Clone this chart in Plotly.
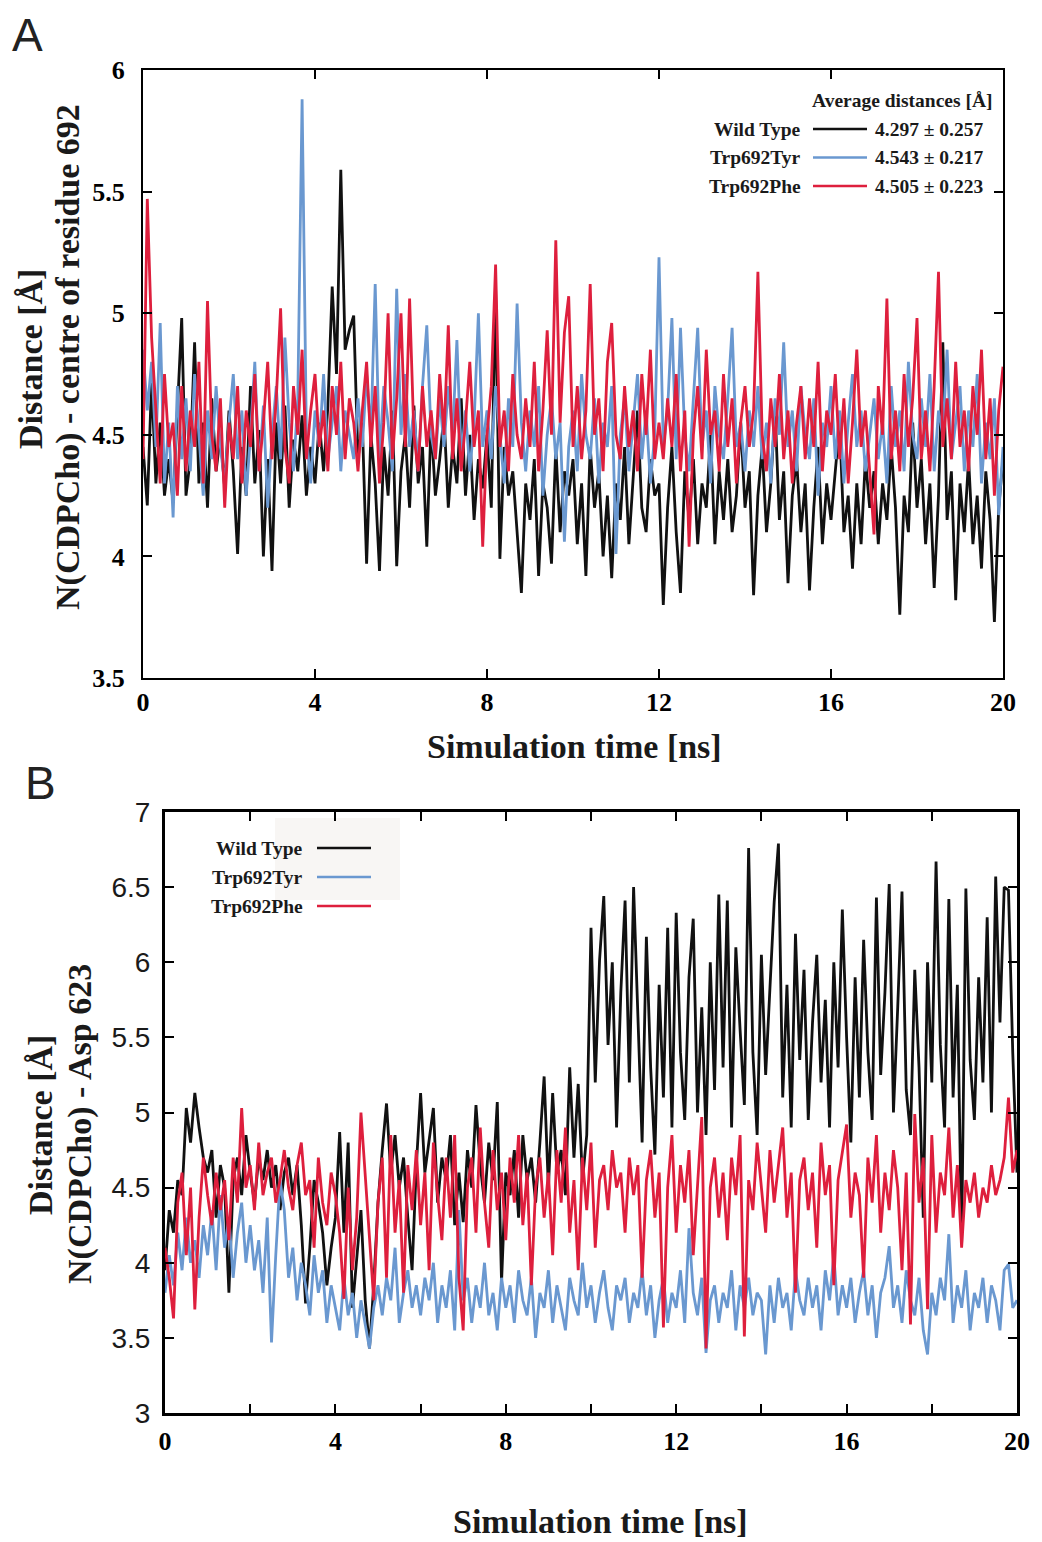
import plotly.graph_objects as go

# ---- data (0.1 ns sampling) ----
time_ns = [i / 10 for i in range(201)]

# Panel A: N(CDPCho) - centre of residue 692
a_wild = [
    4.45, 4.21, 4.72, 4.30, 4.55, 4.25, 4.40, 4.22, 4.60, 4.98,
    4.25, 4.40, 4.88, 4.30, 4.55, 4.20, 4.65, 4.35, 4.50, 4.28,
    4.60, 4.35, 4.01, 4.45, 4.25, 4.70, 4.30, 4.52, 4.00, 4.40,
    3.94, 4.55, 4.30, 4.62, 4.20, 4.48, 4.35, 4.58, 4.25, 4.45,
    4.30, 4.55, 4.35, 4.62, 5.11, 4.75, 5.59, 4.85, 4.93, 4.99,
    4.40, 4.55, 3.97, 4.50, 4.30, 3.94, 4.45, 4.25, 4.60, 3.96,
    4.35, 4.50, 4.20, 4.62, 4.30, 4.45, 4.04, 4.55, 4.25, 4.40,
    4.58, 4.20, 4.45, 4.30, 4.65, 4.25, 4.50, 4.15, 4.40, 4.28,
    4.50, 4.20, 5.10, 3.99, 4.45, 4.25, 4.35, 4.10, 3.85, 4.30,
    4.15, 4.40, 3.92, 4.30, 4.20, 3.97, 4.45, 4.10, 4.35, 4.25,
    4.40, 4.05, 4.30, 3.92, 4.45, 4.20, 4.35, 4.00, 4.25, 3.91,
    4.30, 4.15, 4.45, 4.05, 4.35, 4.60, 4.20, 4.10, 4.40, 4.25,
    4.30, 3.80, 4.20, 4.45, 4.10, 3.85, 4.35, 4.15, 4.40, 4.05,
    4.30, 4.20, 4.50, 4.05, 4.35, 4.15, 4.40, 4.10, 4.25, 4.55,
    4.20, 4.35, 3.84, 4.25, 4.45, 4.10, 4.30, 4.60, 4.15, 4.35,
    3.89, 4.25, 4.40, 4.10, 4.30, 3.86, 4.20, 4.45, 4.05, 4.30,
    4.15, 4.35, 4.55, 4.10, 4.25, 3.95, 4.30, 4.05, 4.40, 4.20,
    4.35, 4.05, 4.30, 4.15, 4.45, 4.20, 3.76, 4.25, 4.10, 4.55,
    4.20, 4.40, 4.05, 4.30, 3.87, 4.25, 4.88, 4.15, 4.35, 3.82,
    4.30, 4.10, 4.40, 4.05, 4.25, 3.95, 4.35, 4.15, 3.73, 4.20,
    4.40,
]
a_tyr = [
    4.85, 4.60, 4.80, 4.45, 4.96, 4.30, 4.55, 4.16, 4.70, 4.40,
    4.65, 4.35, 4.75, 4.50, 4.25, 4.60, 4.40, 4.70, 4.45, 4.30,
    4.55, 4.75, 4.40, 4.60, 4.25, 4.50, 4.80, 4.35, 4.62, 4.20,
    4.50, 4.70, 4.40, 4.90, 4.55, 4.35, 4.65, 5.88, 4.50, 4.30,
    4.60, 4.45, 4.75, 4.40, 4.55, 4.70, 4.35, 4.60, 4.50, 4.40,
    4.65, 4.45, 4.75, 4.50, 5.12, 4.40, 4.70, 4.55, 4.35, 5.10,
    4.50, 4.75, 4.45, 4.60, 4.35, 4.70, 4.95, 4.50, 4.40, 4.65,
    4.45, 4.70, 4.50, 4.89, 4.40, 4.60, 4.35, 4.55, 5.00, 4.45,
    4.60, 4.40, 4.70, 4.50, 4.30, 4.65, 4.45, 5.04, 4.55, 4.35,
    4.60, 4.45, 4.70, 4.25, 4.50, 4.65, 4.40, 4.55, 4.06, 4.45,
    4.60, 4.35, 4.75, 4.50, 4.40, 4.65, 4.30, 4.55, 4.45, 4.70,
    4.01, 4.50, 4.65, 4.35, 4.55, 4.75, 4.40, 4.60, 4.30, 4.50,
    5.23, 4.45, 4.60, 4.98, 4.40, 4.94, 4.50, 4.35, 4.65, 4.94,
    4.45, 4.60, 4.30, 4.70, 4.50, 4.40, 4.65, 4.94, 4.45, 4.55,
    4.35, 4.60, 4.45, 4.70, 4.40, 4.55, 4.30, 4.65, 4.50, 4.88,
    4.45, 4.60, 4.35, 4.70, 4.50, 4.40, 4.65, 4.25, 4.55, 4.45,
    4.70, 4.40, 4.60, 4.30, 4.55, 4.75, 4.45, 4.60, 4.35, 4.50,
    4.65, 4.40, 4.55, 4.30, 4.70, 4.45, 4.60, 4.35, 4.80, 4.50,
    4.40, 4.65, 4.45, 4.75, 4.35, 4.60, 4.50, 4.85, 4.40, 4.55,
    4.70, 4.35, 4.60, 4.45, 4.75, 4.30, 4.55, 4.40, 4.65, 4.17,
    4.45,
]
a_phe = [
    4.40, 5.47, 4.90, 4.60, 4.30, 4.75, 4.45, 4.55, 4.25, 4.70,
    4.35, 4.60, 4.45, 4.80, 4.30, 5.05, 4.50, 4.35, 4.65, 4.20,
    4.55, 4.40, 4.70, 4.30, 4.60, 4.45, 4.75, 4.35, 4.55, 4.80,
    4.40, 4.65, 5.02, 4.45, 4.30, 4.70, 4.50, 4.85, 4.40, 4.60,
    4.75, 4.45, 4.60, 4.35, 4.70, 4.50, 4.80, 4.40, 4.65, 4.55,
    4.35, 4.60, 4.80, 4.45, 4.70, 4.30, 4.55, 5.00, 4.40, 4.65,
    5.00, 4.45, 5.06, 4.50, 4.35, 4.70, 4.45, 4.60, 4.40, 4.75,
    4.50, 4.95, 4.40, 4.65, 4.35, 4.55, 4.80, 4.45, 4.60, 4.04,
    4.50, 4.70, 5.20, 4.45, 4.60, 4.35, 4.75, 4.50, 4.40, 4.65,
    4.45, 4.80, 4.35, 4.60, 4.93, 4.50, 5.30, 4.55, 4.92, 5.07,
    4.45, 4.70, 4.40, 4.60, 5.12, 4.50, 4.65, 4.35, 4.80, 4.96,
    4.50, 4.40, 4.70, 4.45, 4.60, 4.35, 4.75, 4.50, 4.85, 4.40,
    4.55, 4.40, 4.65, 4.45, 4.75, 4.35, 4.60, 4.04, 4.50, 4.70,
    4.40, 4.85, 4.50, 4.60, 4.35, 4.75, 4.45, 4.65, 4.30, 4.55,
    4.70, 4.45, 4.60, 5.17, 4.50, 4.35, 4.65, 4.45, 4.75, 4.40,
    4.60, 4.30, 4.55, 4.70, 4.40, 4.65, 4.45, 4.80, 4.35, 4.60,
    4.50, 4.75, 4.40, 4.65, 4.30, 4.55, 4.85, 4.45, 4.60, 4.35,
    4.09, 4.70, 4.50, 5.06, 4.40, 4.60, 4.35, 4.75, 4.45, 4.65,
    4.98, 4.40, 4.60, 4.35, 4.70, 5.17, 4.45, 4.65, 4.40, 4.80,
    4.45, 4.60, 4.35, 4.70, 4.50, 4.85, 4.40, 4.65, 4.25, 4.60,
    4.78,
]

# Panel B: N(CDPCho) - Asp 623
b_wild = [
    3.95, 4.35, 4.20, 4.55, 4.45, 5.03, 4.80, 5.13, 4.90, 4.70,
    4.60, 4.75, 4.30, 4.65, 4.50, 3.80, 4.55, 4.70, 4.45, 4.85,
    4.60, 4.40, 4.70, 4.55, 4.75, 4.50, 4.65, 4.35, 4.60, 4.70,
    4.45, 4.65, 4.25, 3.73, 4.10, 4.55, 4.40, 4.20, 3.85, 4.10,
    4.30, 4.87, 4.20, 4.80, 3.70, 4.00, 4.35, 3.75, 3.43, 3.85,
    4.40, 4.75, 5.06, 4.60, 4.85, 4.50, 4.70, 4.30, 3.95, 4.65,
    5.13, 4.60, 4.80, 5.03, 4.40, 4.70, 4.55, 4.85, 4.25, 4.60,
    4.27, 4.75, 4.50, 5.05, 4.65, 4.40, 4.80, 4.55, 5.07, 3.87,
    4.60, 4.45, 4.75, 4.30, 4.85, 4.55, 4.70, 4.40, 4.80, 5.24,
    4.50, 5.13, 4.60, 4.75, 4.45, 5.30, 4.70, 5.19, 4.55, 4.85,
    6.23, 5.20, 6.01, 6.44, 5.45, 6.00, 4.90, 5.80, 6.41, 5.20,
    6.50, 5.60, 4.80, 6.17, 5.30, 4.72, 5.85, 5.10, 6.23, 4.90,
    6.33, 5.40, 4.95, 5.90, 6.29, 5.00, 5.70, 4.85, 6.00, 5.15,
    6.45, 5.30, 6.41, 4.90, 6.10, 5.55, 5.05, 6.76, 5.40, 4.85,
    6.05, 5.25, 5.80, 6.40, 6.79, 5.10, 5.85, 4.90, 6.19, 5.35,
    5.95, 4.95, 5.60, 6.05, 5.20, 5.75, 4.90, 6.00, 5.30, 6.35,
    5.50, 4.80, 5.90, 5.10, 6.15, 5.40, 4.95, 6.43, 5.25, 5.80,
    6.52, 5.00, 5.70, 6.47, 5.15, 4.85, 5.95, 5.30, 4.30, 6.00,
    5.20, 6.67, 5.45, 4.90, 6.42, 5.10, 5.85, 4.13, 6.49, 5.35,
    4.95, 5.90, 5.20, 6.30, 5.00, 6.57, 5.60, 6.50, 6.48, 5.40,
    4.60,
]
b_tyr = [
    3.80, 4.05, 3.85, 4.20, 3.95, 4.30, 4.00, 4.15, 3.90, 4.25,
    4.05, 4.35, 3.95, 4.45, 4.10, 4.30, 3.90, 4.20, 4.40, 4.00,
    4.25, 3.95, 4.15, 3.80, 4.30, 3.47, 4.05, 4.55, 4.35, 3.90,
    4.10, 3.75, 4.00, 3.85, 3.65, 4.05, 3.80, 3.95, 3.60, 3.85,
    3.70, 3.55, 3.90, 3.65, 3.80, 3.50, 3.75, 3.60, 3.43, 3.70,
    3.85, 3.65, 3.90, 3.75, 4.10, 3.60, 3.80, 3.95, 3.70, 3.85,
    3.65, 3.90, 3.75, 4.00, 3.60, 3.85, 3.70, 3.95, 3.55, 4.35,
    3.75, 3.90, 3.60, 3.85, 3.70, 4.00, 3.65, 3.80, 3.55, 3.90,
    3.70, 3.85, 3.60, 3.95, 3.75, 3.65, 3.90, 3.50, 3.80, 3.70,
    3.95, 3.60, 3.85, 3.70, 3.55, 3.90, 3.75, 3.65, 4.00, 3.70,
    3.85, 3.60, 3.80, 3.95, 3.70, 3.55, 3.85, 3.75, 3.90, 3.60,
    3.80, 3.70, 3.95, 3.65, 3.85, 3.50, 3.75, 3.90, 3.60, 3.80,
    3.70, 3.95, 3.60, 4.23, 3.80, 3.65, 3.90, 3.40, 3.75, 3.85,
    3.60, 3.80, 3.70, 3.95, 3.55, 3.85, 3.70, 3.90, 3.65, 3.80,
    3.75, 3.39, 3.85, 3.60, 3.90, 3.70, 3.80, 3.55, 3.95, 3.75,
    3.65, 3.90, 3.70, 3.85, 3.55, 3.95, 3.75, 4.05, 3.65, 3.85,
    3.70, 3.90, 3.60, 3.80, 3.95, 3.65, 3.85, 3.50, 3.80, 3.90,
    4.11, 3.70, 3.85, 3.60, 3.95, 3.75, 3.65, 3.90, 3.55, 3.39,
    3.80, 3.65, 3.90, 3.75, 4.19, 3.60, 3.85, 3.70, 3.95, 3.55,
    3.80, 3.70, 3.90, 3.60, 3.85, 3.75, 3.55, 3.95, 3.99, 3.70,
    3.75,
]
b_phe = [
    4.10, 3.90, 3.63, 4.40, 4.60, 4.05, 4.50, 3.69, 4.30, 4.70,
    4.45, 4.25, 4.60, 4.35, 4.55, 4.15, 4.70, 4.40, 5.03, 4.50,
    4.65, 4.35, 4.80, 4.45, 4.60, 4.70, 4.40, 4.55, 4.75, 4.50,
    4.35, 4.65, 4.80, 4.45, 4.55, 4.10, 4.70, 4.40, 4.25, 4.60,
    4.45, 4.20, 3.76, 4.50, 3.95, 4.30, 5.00, 4.60, 4.15, 3.75,
    4.40, 4.70, 3.90, 4.85, 4.20, 4.55, 3.80, 4.65, 4.35, 4.75,
    4.25, 4.60, 3.95, 4.80, 4.45, 4.15, 4.70, 4.30, 4.85, 3.90,
    3.55, 4.50, 4.70, 4.20, 4.90, 4.40, 4.10, 4.75, 4.35, 4.60,
    4.15, 4.70, 4.40, 4.85, 4.25, 4.60, 3.85, 4.50, 4.70, 4.30,
    4.60, 4.05, 4.75, 4.40, 4.90, 4.20, 4.55, 3.95, 4.70, 4.35,
    4.80, 4.10, 4.55, 4.65, 4.35, 4.75, 4.50, 4.60, 4.20, 4.70,
    4.45, 4.65, 3.90, 4.55, 4.75, 4.30, 4.60, 3.57, 4.50, 4.85,
    4.20, 4.65, 4.40, 4.75, 4.05, 4.55, 4.97, 3.43, 4.50, 4.70,
    4.30, 4.60, 4.15, 4.70, 4.45, 4.85, 3.51, 4.55, 4.35, 4.80,
    4.50, 4.20, 4.75, 4.40, 4.65, 4.90, 4.30, 4.60, 3.80, 4.55,
    4.70, 4.35, 4.60, 4.10, 4.80, 4.45, 4.65, 3.85, 4.55, 4.75,
    4.92, 4.30, 4.60, 4.45, 3.90, 4.70, 4.40, 4.85, 4.20, 4.60,
    4.35, 4.75, 4.50, 3.95, 4.60, 3.59, 4.99, 4.40, 4.70, 3.69,
    4.85, 4.20, 4.60, 4.45, 4.90, 4.30, 4.65, 4.10, 4.55, 4.40,
    4.60, 4.30, 4.50, 4.40, 4.65, 4.45, 4.55, 4.70, 5.10, 4.60,
    4.75,
]

series_names = ["Wild Type", "Trp692Tyr", "Trp692Phe"]
avg_labels = ["4.297 \u00b1 0.257", "4.543 \u00b1 0.217", "4.505 \u00b1 0.223"]
colors = ["#111111", "#6a98d0", "#de1f3d"]

W, H = 1042, 1542
SERIF = "Liberation Serif"
SANS = "Liberation Sans"


def px(x):
    return x / W


def py(y):
    return 1 - y / H


fig = go.Figure()

for vals, name, col in zip([a_wild, a_tyr, a_phe], series_names, colors):
    fig.add_trace(go.Scatter(x=time_ns, y=vals, mode="lines", name=name,
                             line=dict(color=col, width=2.8),
                             xaxis="x", yaxis="y", showlegend=False))
for vals, name, col in zip([b_wild, b_tyr, b_phe], series_names, colors):
    fig.add_trace(go.Scatter(x=time_ns, y=vals, mode="lines", name=name,
                             line=dict(color=col, width=2.8),
                             xaxis="x2", yaxis="y2", showlegend=False))

bold_tick = dict(family=SERIF, size=26, color="black", weight="bold")
axis_common = dict(showline=True, linecolor="black", mirror="ticks",
                   ticks="inside", tickcolor="black", showgrid=False, zeroline=False)

fig.update_layout(
    width=W, height=H,
    margin=dict(l=0, r=0, t=0, b=0, autoexpand=False),
    paper_bgcolor="white", plot_bgcolor="white",
    xaxis=dict(domain=[px(143), px(1003)], anchor="y", range=[0, 20],
               tickvals=[0, 4, 8, 12, 16, 20], ticklen=9, tickwidth=2,
               linewidth=2, tickfont=bold_tick, ticklabelstandoff=0, **axis_common),
    yaxis=dict(domain=[py(678), py(70)], anchor="x", range=[3.5, 6],
               tickvals=[3.5, 4, 4.5, 5, 5.5, 6], ticktext=["3.5", "4", "4.5", "5", "5.5", "6"],
               ticklen=9, tickwidth=2, linewidth=2, tickfont=bold_tick,
               ticklabelstandoff=11, **axis_common),
    xaxis2=dict(domain=[px(165), px(1017)], anchor="y2", range=[0, 20],
                tickvals=[0, 4, 8, 12, 16, 20], ticklen=9, tickwidth=1.5,
                minor=dict(tickvals=[2, 6, 10, 14, 18], ticks="inside", ticklen=9,
                           tickwidth=1.5, tickcolor="black"),
                linewidth=3, tickfont=bold_tick, ticklabelstandoff=3, **axis_common),
    yaxis2=dict(domain=[py(1413), py(812)], anchor="x2", range=[3, 7],
                tickvals=[3, 3.5, 4, 4.5, 5, 5.5, 6, 6.5, 7],
                ticktext=["3", "3.5", "4", "4.5", "5", "5.5", "6", "6.5", "7"],
                ticklen=9, tickwidth=1.5, linewidth=3,
                tickfont=dict(family=SANS, size=28, color="#1a1a1a"),
                ticklabelstandoff=6, **axis_common),
)

ann = []
# panel letters
ann.append(dict(x=px(27), y=py(35), text="A", font=dict(family=SANS, size=46, color="#222")))
ann.append(dict(x=px(40), y=py(783), text="B", font=dict(family=SANS, size=46, color="#222")))
# axis titles
title_font = dict(family=SERIF, size=34, color="#1a1a1a", weight="bold")
ann.append(dict(x=px(574), y=py(746), text="Simulation time [ns]", font=title_font))
ann.append(dict(x=px(600), y=py(1521), text="Simulation time [ns]", font=title_font))
ytitle_font = dict(family=SERIF, size=34, color="#1a1a1a", weight="bold")
ann.append(dict(x=px(30), y=py(359), textangle=-90, text="Distance [\u00c5]", font=ytitle_font))
ann.append(dict(x=px(68), y=py(357), textangle=-90,
                text="N(CDPCho) - centre of residue 692", font=ytitle_font))
ann.append(dict(x=px(40), y=py(1125), textangle=-90, text="Distance [\u00c5]", font=ytitle_font))
ann.append(dict(x=px(80), y=py(1124), textangle=-90,
                text="N(CDPCho) - Asp 623", font=ytitle_font))

leg_font = dict(family=SERIF, size=19.5, color="#1a1a1a", weight="bold")
# panel A legend with averages
ann.append(dict(x=px(995), y=py(101), text="Average distances [\u00c5]", xanchor="right", font=leg_font))
shapes = []
for i, (name, col, avg) in enumerate(zip(series_names, colors, avg_labels)):
    yy = 129 + i * 28.5
    ann.append(dict(x=px(803), y=py(yy), text=name, xanchor="right", font=leg_font))
    ann.append(dict(x=px(873), y=py(yy), text=avg, xanchor="left", font=leg_font))
    shapes.append(dict(type="line", xref="paper", yref="paper", x0=px(813), x1=px(867),
                       y0=py(yy), y1=py(yy), line=dict(color=col, width=2.5)))

# panel B legend
shapes.append(dict(type="rect", xref="paper", yref="paper", x0=px(275), x1=px(400),
                   y0=py(900), y1=py(818), fillcolor="#f8f6f4", line=dict(width=0), layer="below"))
for i, (name, col) in enumerate(zip(series_names, colors)):
    yy = 848 + i * 29
    ann.append(dict(x=px(305), y=py(yy), text=name, xanchor="right", font=leg_font))
    shapes.append(dict(type="line", xref="paper", yref="paper", x0=px(317), x1=px(371),
                       y0=py(yy), y1=py(yy), line=dict(color=col, width=2.5)))

for a in ann:
    a.setdefault("xref", "paper")
    a.setdefault("yref", "paper")
    a.setdefault("showarrow", False)
    a.setdefault("xanchor", "center")
    a.setdefault("yanchor", "middle")

fig.update_layout(annotations=ann, shapes=shapes)

# drop the browser's default body margin so the figure sits at the page origin
fig.write_html("out.html", config={"displayModeBar": False},
               post_script="document.body.style.margin='0';")
